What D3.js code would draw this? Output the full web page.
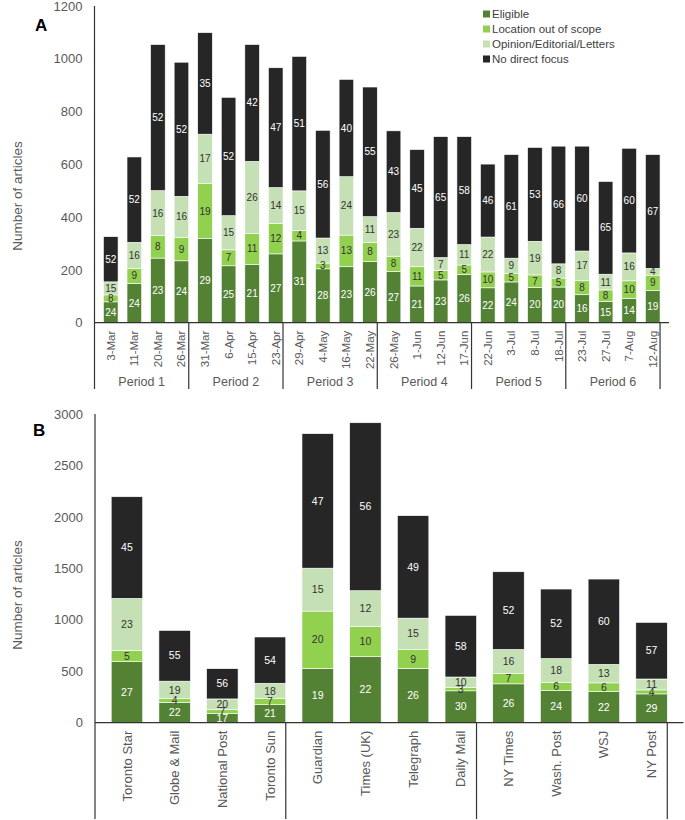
<!DOCTYPE html>
<html>
<head>
<meta charset="utf-8">
<script src="https://cdn.jsdelivr.net/npm/d3@7"></script>
<style>
  body { margin: 0; background: #fff; }
  svg { font-family: "Liberation Sans", Arial, sans-serif; }
</style>
</head>
<body>
<svg id="chart" width="685" height="820"></svg>
<script>
// series (shared)
const keys = ['Eligible', 'Location out of scope', 'Opinion/Editorial/Letters', 'No direct focus'];
const colors = ['#548235', '#92D050', '#C5E0B4', '#262626'];
const labelColors = ['#ffffff', '#333333', '#333333', '#ffffff'];

// Panel A - weekly sample dates
const datesA = ['3-Mar', '11-Mar', '20-Mar', '26-Mar', '31-Mar', '6-Apr', '15-Apr', '23-Apr',
  '29-Apr', '4-May', '16-May', '22-May', '26-May', '1-Jun', '12-Jun', '17-Jun',
  '22-Jun', '3-Jul', '8-Jul', '18-Jul', '23-Jul', '27-Jul', '7-Aug', '12-Aug'];
const periodsA = ['Period 1', 'Period 2', 'Period 3', 'Period 4', 'Period 5', 'Period 6'];
const periodSizesA = [4, 4, 4, 4, 4, 4];
const totalsA = [326, 628, 1054, 987, 1099, 854, 1054, 966, 1009, 729, 922, 893,
  727, 656, 705, 705, 601, 637, 664, 669, 669, 535, 661, 637];
const eligibleA = [24, 24, 23, 24, 29, 25, 21, 27, 31, 28, 23, 26, 27, 21, 23, 26, 22, 24, 20, 20, 16, 15, 14, 19];
const locationA = [8, 9, 8, 9, 19, 7, 11, 12, 4, 3, 13, 8, 8, 11, 5, 5, 10, 5, 7, 5, 8, 8, 10, 9];
const opinionA = [15, 16, 16, 16, 17, 15, 26, 14, 15, 13, 24, 11, 23, 22, 7, 11, 22, 9, 19, 8, 17, 11, 16, 4];
const noFocusA = [52, 52, 52, 52, 35, 52, 42, 47, 51, 56, 40, 55, 43, 45, 65, 58, 46, 61, 53, 66, 60, 65, 60, 67];
const ticksA = [0, 200, 400, 600, 800, 1000, 1200];

// Panel B - outlets
const outletsB = ['Toronto Star', 'Globe & Mail', 'National Post', 'Toronto Sun', 'Guardian', 'Times (UK)',
  'Telegraph', 'Daily Mail', 'NY Times', 'Wash. Post', 'WSJ', 'NY Post'];
const groupSizesB = [4, 4, 4];
const totalsB = [2196, 897, 525, 833, 2809, 2915, 2012, 1043, 1467, 1299, 1396, 975];
const eligibleB = [27, 22, 17, 21, 19, 22, 26, 30, 26, 24, 22, 29];
const locationB = [5, 4, 7, 7, 20, 10, 9, 3, 7, 6, 6, 4];
const opinionB = [23, 19, 20, 18, 15, 12, 15, 10, 16, 18, 13, 11];
const noFocusB = [45, 55, 56, 54, 47, 56, 49, 58, 52, 52, 60, 57];
const ticksB = [0, 500, 1000, 1500, 2000, 2500, 3000];

const svg = d3.select('#chart');

function drawPanel(cfg) {
  const g = svg.append('g');
  const rows = cfg.cats.map((c, i) => {
    const pcts = [cfg.pct[0][i], cfg.pct[1][i], cfg.pct[2][i], cfg.pct[3][i]];
    const sum = d3.sum(pcts);
    const row = { cat: c, pcts: pcts };
    keys.forEach((k, j) => { row[k] = cfg.totals[i] * pcts[j] / sum; });
    return row;
  });

  const x = d3.scaleBand().domain(cfg.cats).range([cfg.left, cfg.right]).padding(cfg.pad);
  const y = d3.scaleLinear().domain([0, cfg.max]).range([cfg.bottom, cfg.top]);
  const series = d3.stack().keys(keys)(rows);

  const layers = g.selectAll('.layer').data(series).join('g')
    .attr('fill', (d, i) => colors[i]);
  layers.selectAll('rect').data(d => d).join('rect')
    .attr('x', d => x(d.data.cat))
    .attr('width', x.bandwidth())
    .attr('y', d => y(d[1]))
    .attr('height', d => y(d[0]) - y(d[1]))
    .attr('stroke', '#ffffff')
    .attr('stroke-width', 0.6);

  series.forEach((s, j) => {
    g.selectAll(null).data(s).join('text')
      .attr('x', d => x(d.data.cat) + x.bandwidth() / 2)
      .attr('y', d => (y(d[0]) + y(d[1])) / 2)
      .attr('dy', '0.35em')
      .attr('text-anchor', 'middle')
      .attr('font-size', cfg.labelSize)
      .attr('fill', labelColors[j])
      .text(d => d.data.pcts[j]);
  });

  // y axis
  const yAxis = g.append('g')
    .attr('transform', `translate(${cfg.left},0)`)
    .call(d3.axisLeft(y).tickValues(cfg.ticks).tickFormat(d3.format('d')).tickSize(0).tickPadding(12));
  yAxis.select('.domain').remove();
  yAxis.selectAll('text').attr('font-size', 13).attr('fill', '#595959')
    .attr('font-family', '"Liberation Sans", Arial, sans-serif');

  const lineColor = '#333333';
  g.append('line').attr('x1', cfg.left).attr('x2', cfg.left)
    .attr('y1', cfg.top).attr('y2', cfg.axisEnd)
    .attr('stroke', lineColor).attr('stroke-width', 1.2);
  g.append('line').attr('x1', cfg.left).attr('x2', cfg.right)
    .attr('y1', cfg.bottom).attr('y2', cfg.bottom)
    .attr('stroke', lineColor).attr('stroke-width', 1.2);

  // category labels
  g.selectAll('.cat').data(cfg.cats).join('text')
    .attr('transform', d => `translate(${x(d) + x.bandwidth() / 2},${cfg.bottom + 8}) rotate(-90)`)
    .attr('text-anchor', 'end')
    .attr('dy', '0.35em')
    .attr('font-size', cfg.catSize)
    .attr('fill', '#595959')
    .text(d => d);

  // group separators and group labels
  let idx = 0;
  const step = x.step();
  cfg.groupSizes.forEach((n, gi) => {
    const x0 = cfg.left + idx * step;
    const x1 = x0 + n * step;
    idx += n;
    g.append('line').attr('x1', x1).attr('x2', x1)
      .attr('y1', cfg.bottom).attr('y2', cfg.axisEnd)
      .attr('stroke', lineColor).attr('stroke-width', 1.2);
    if (cfg.groups) {
      g.append('text')
        .attr('x', (x0 + x1) / 2).attr('y', cfg.groupY)
        .attr('text-anchor', 'middle')
        .attr('font-size', 12.5)
        .attr('fill', '#595959')
        .text(cfg.groups[gi]);
    }
  });

  // axis title
  g.append('text')
    .attr('transform', `translate(${cfg.titleX},${cfg.titleY}) rotate(-90)`)
    .attr('text-anchor', 'middle')
    .attr('font-size', 13.5)
    .attr('fill', '#595959')
    .text('Number of articles');

  // panel letter
  g.append('text')
    .attr('x', cfg.letterX).attr('y', cfg.letterY)
    .attr('font-size', 17).attr('font-weight', 'bold')
    .attr('fill', '#000')
    .text(cfg.letter);
}

drawPanel({
  cats: datesA, totals: totalsA, pct: [eligibleA, locationA, opinionA, noFocusA],
  groups: periodsA, groupSizes: periodSizesA, ticks: ticksA, max: 1200,
  left: 94.5, right: 669, top: 6, bottom: 322.7, axisEnd: 389, pad: 0.38,
  labelSize: 10, catSize: 11.5, groupY: 386, titleX: 22, titleY: 196,
  letter: 'A', letterX: 35, letterY: 31
});

drawPanel({
  cats: outletsB, totals: totalsB, pct: [eligibleB, locationB, opinionB, noFocusB],
  groups: null, groupSizes: groupSizesB, ticks: ticksB, max: 3000,
  left: 95, right: 683.5, top: 414, bottom: 722.7, axisEnd: 819, pad: 0.34,
  labelSize: 10.5, catSize: 13, groupY: 0, titleX: 22, titleY: 595,
  letter: 'B', letterX: 33, letterY: 436
});

// legend
const legend = svg.append('g').attr('transform', 'translate(483,14)');
keys.forEach((k, i) => {
  legend.append('rect').attr('x', 0).attr('y', i * 15 - 3.5).attr('width', 7).attr('height', 7)
    .attr('fill', colors[i]);
  legend.append('text').attr('x', 9).attr('y', i * 15).attr('dy', '0.35em')
    .attr('font-size', 11.5).attr('fill', '#404040').text(k);
});
</script>
</body>
</html>
